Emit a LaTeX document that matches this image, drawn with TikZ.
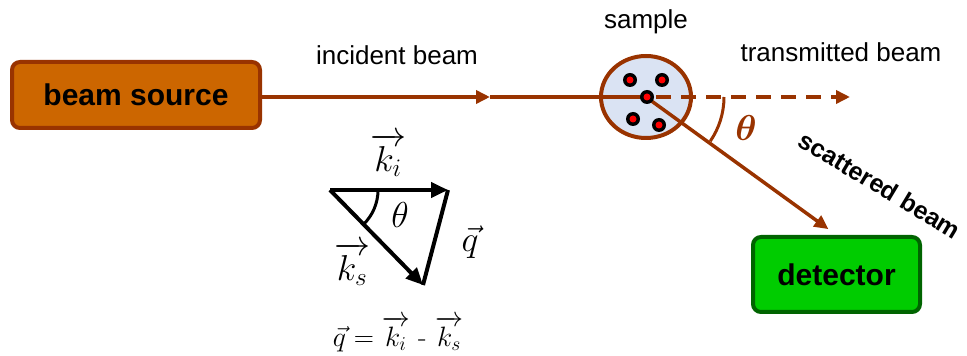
\documentclass[tikz,border=0pt]{standalone}
\usepackage{fix-cm}
\usepackage{amsmath,bm}
\usepackage{fontspec}
\setsansfont{Liberation Sans}
\usetikzlibrary{arrows.meta,shapes.geometric,calc}
\definecolor{beam}{RGB}{153,51,0}
\definecolor{srcfill}{RGB}{204,102,0}
\definecolor{detfill}{RGB}{0,204,0}
\definecolor{detdraw}{RGB}{0,100,0}
\definecolor{samplefill}{RGB}{218,227,243}
\tikzset{
  lbl/.style={font=\sffamily\fontsize{26}{30}\selectfont, inner sep=0pt},
  boldlbl/.style={font=\sffamily\bfseries\fontsize{25}{29}\selectfont, inner sep=0pt},
  boxnode/.style={rounded corners=8pt, line width=4pt, font=\sffamily\bfseries\fontsize{30}{34}\selectfont},
  beamline/.style={draw=beam, line width=3.5pt},
  beamtip/.style={-{Triangle[length=14pt,width=13pt]}},
  vecline/.style={draw=black, line width=4pt},
  vectip/.style={-{Triangle[length=17pt,width=15pt]}},
  mathlbl/.style={font=\fontsize{36}{40}\selectfont, inner sep=0pt},
  dot/.style={circle, fill=black, minimum size=14pt, inner sep=0pt, path picture={\fill[red] (path picture bounding box.center) circle (3.5pt);}},
}
\begin{document}
\begin{tikzpicture}[x=1pt,y=1pt]
\useasboundingbox (0,0) rectangle (967,356);
% boxes
\node[boxnode, draw=beam, fill=srcfill, minimum width=248pt, minimum height=66pt] (src) at (136,261) {beam source};
\node[boxnode, draw=detdraw, fill=detfill, minimum width=167pt, minimum height=75pt] (det) at (836.5,81.5) {detector};
% sample
\node[ellipse, draw=beam, line width=4pt, fill=samplefill, minimum width=90pt, minimum height=82pt, inner sep=0pt] (sample) at (646,259) {};
\coordinate (mid) at (490,259);
\coordinate (tr) at (850,259);
% beams
\draw[beamline, beamtip] (src.east |- mid) -- (mid);
\draw[beamline] (mid) -- (sample.center);
\draw[beamline, beamtip, dash pattern=on 15pt off 10pt, dash phase=-10pt] (sample.center) -- (tr);
\draw[beamline, beamtip, shorten >=10pt] (sample.center) -- (det.north);
% dots
\node[dot] (d1) at (630,276) {};
\node[dot] (d2) at (662,276) {};
\node[dot] (d3) at (647,259) {};
\node[dot] (d4) at (633,237) {};
\node[dot] (d5) at (659,231) {};
% angle
\draw[beam, line width=3pt] ($(sample.center)+(78,0)$) arc[start angle=0, end angle=-34.5, radius=78];
\node[mathlbl, text=beam] (th1) at (746,228) {$\boldsymbol{\theta}$};
% labels
\node[lbl] (l1) at (397,301) {incident beam};
\node[lbl] (l2) at (646,334) {sample};
\node[lbl] (l3) at (841,304) {transmitted beam};
\node[boldlbl, rotate=-31] (l4) at (880,171) {scattered beam};
% triangle
\coordinate (A) at (330,166);
\coordinate (B) at (448,166);
\coordinate (C) at (423,71);
\draw[vecline] (B) -- (C);
\draw[vecline, vectip] (A) -- (B);
\draw[vecline, vectip] (A) -- (C);
\draw[line width=3pt] ($(A)+(48,0)$) arc[start angle=0, end angle=-45.6, radius=48];
\node[mathlbl] (th2) at (400,141) {$\theta$};
\node[mathlbl] (ki) at (388,201) {$\overrightarrow{k_i}$};
\node[mathlbl] (ks) at (352,92) {$\overrightarrow{k_s}$};
\node[mathlbl] (q) at (470,114) {$\vec{q}$};
\node[mathlbl, font=\fontsize{28}{32}\selectfont] (eq) at (398,22) {$\vec{q} = \overrightarrow{k_i}$ - $\overrightarrow{k_s}$};
\end{tikzpicture}
\end{document}
